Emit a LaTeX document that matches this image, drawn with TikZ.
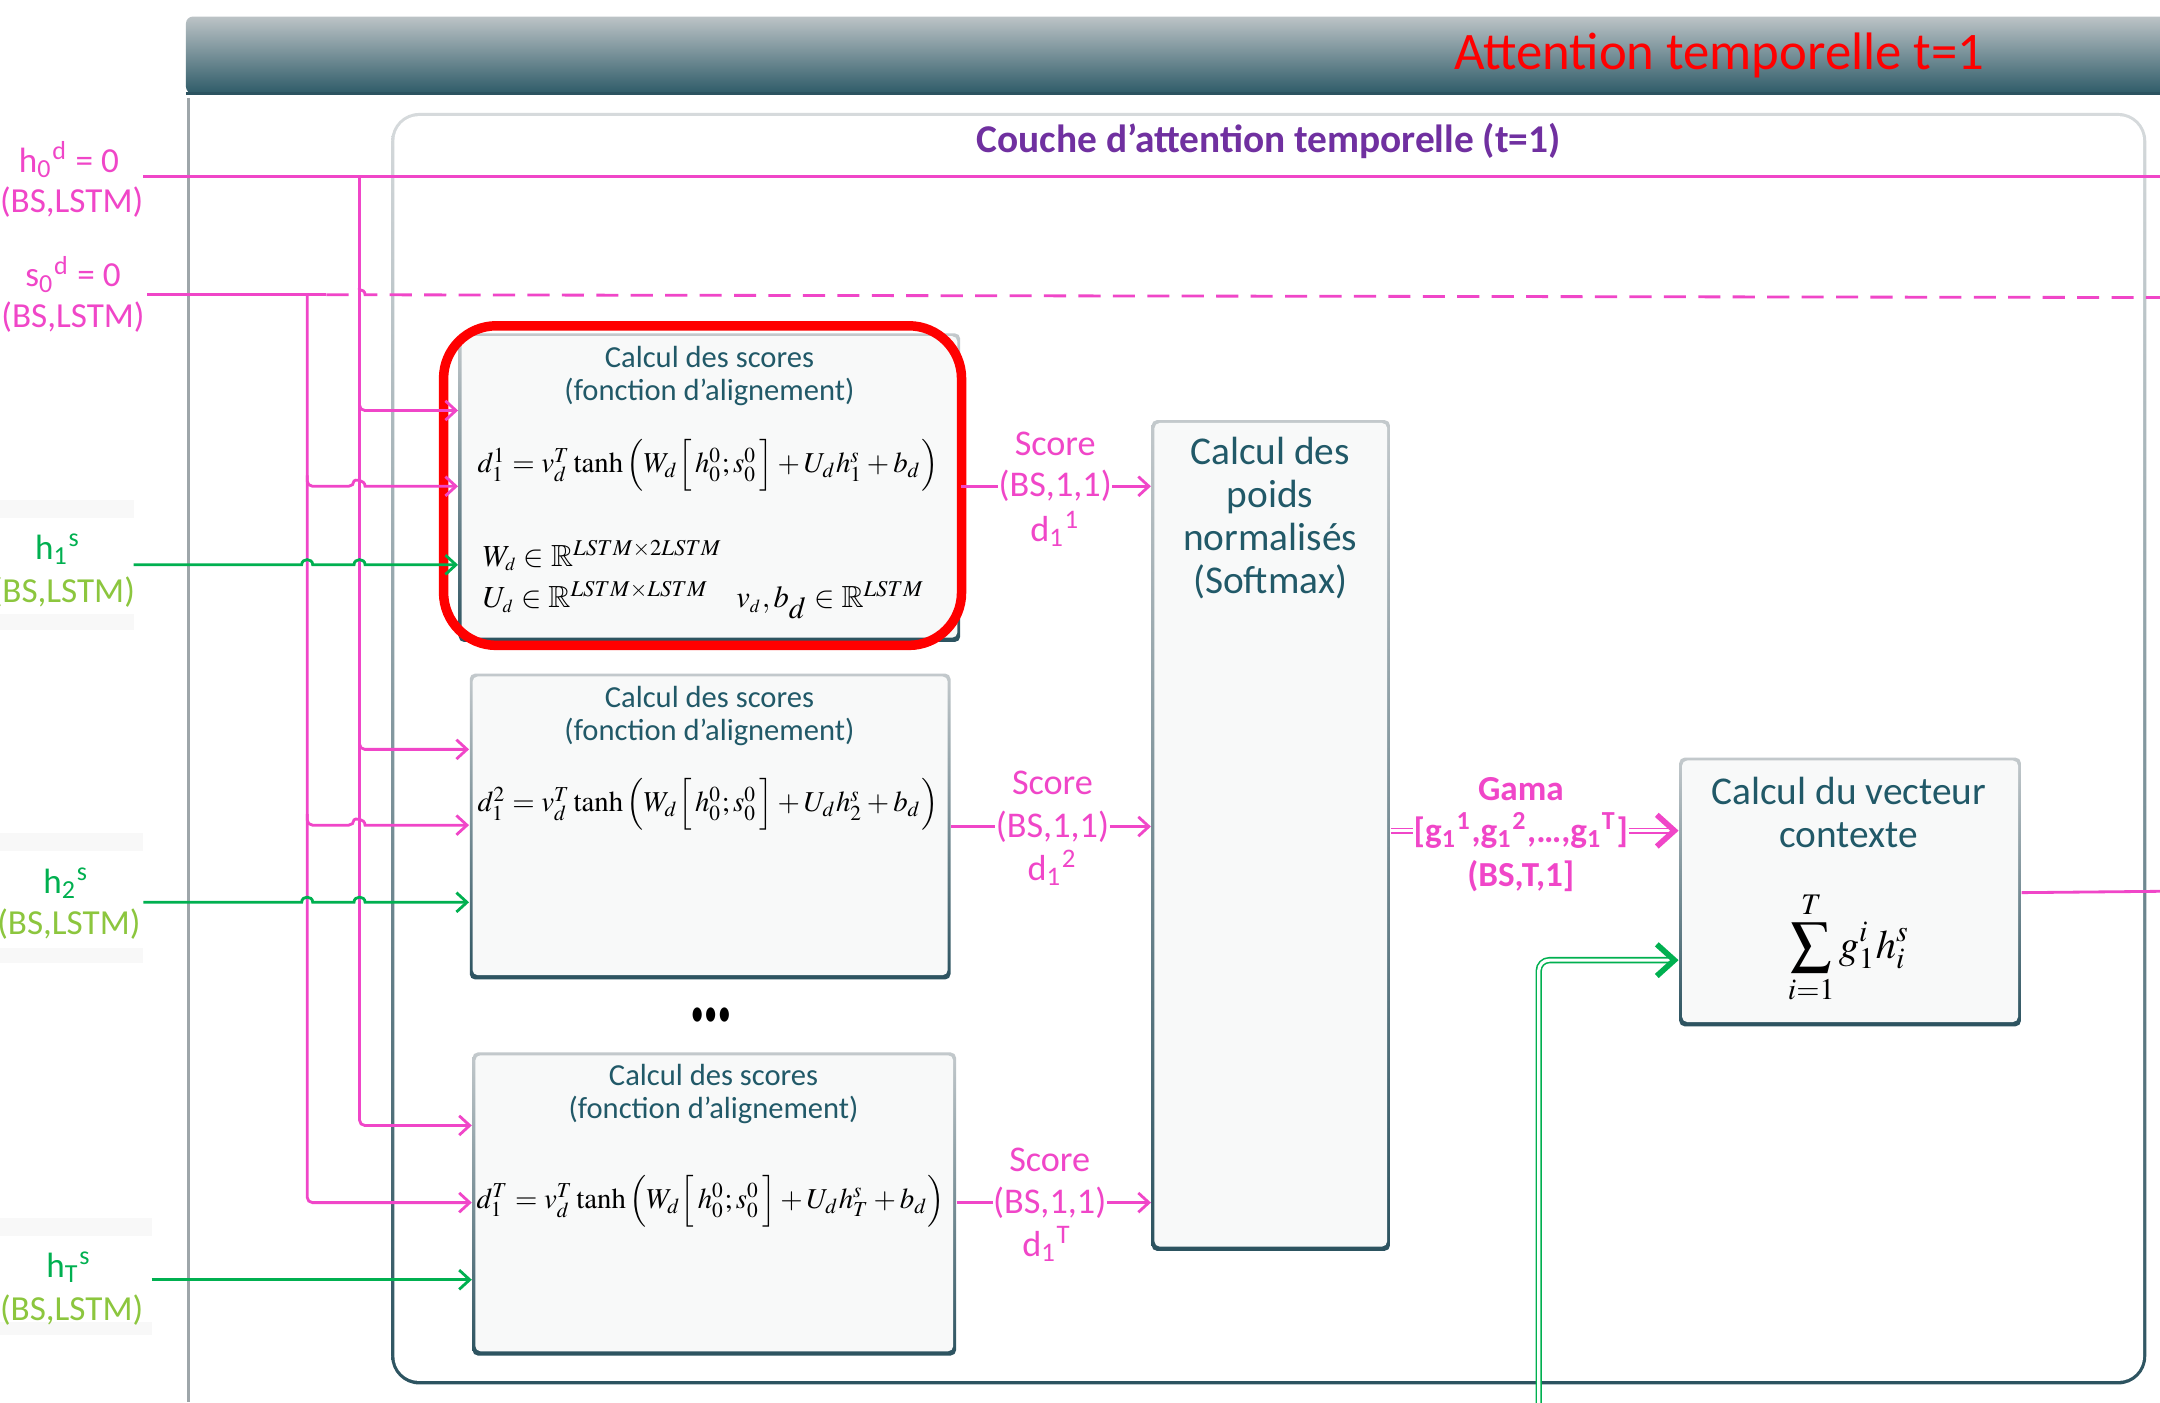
\documentclass[tikz,border=0pt]{standalone}
\usepackage{amssymb}
\usepackage{mathptmx}
\usepackage[no-math]{fontspec}
\setmainfont{Carlito}
\usetikzlibrary{arrows.meta,calc}
\newlength{\px}\setlength{\px}{0.013776cm}
\definecolor{pinkc}{HTML}{F046C8}
\definecolor{greenc}{HTML}{00B050}
\definecolor{lgreen}{HTML}{8CC63E}
\definecolor{tealt}{HTML}{215968}
\definecolor{purplec}{HTML}{7030A0}
\definecolor{bordtop}{HTML}{C3C9CC}
\definecolor{bordbot}{HTML}{2C5360}
\definecolor{framet}{HTML}{D6DADC}
\definecolor{boxfill}{HTML}{F8F9F9}
\definecolor{hdtop}{HTML}{BCC3C6}
\definecolor{hdbot}{HTML}{2E5B68}
\definecolor{labbg}{HTML}{F8F8F8}
\definecolor{framec}{HTML}{9EA6AA}
\tikzset{
  gbox/.style={rectangle, rounded corners=1.5pt, inner sep=0pt,
    top color=bordtop, bottom color=bordbot,
    path picture={\fill[boxfill] ([shift={(0.8pt,-0.8pt)}]path picture bounding box.north west)
       rectangle ([shift={(-0.8pt,1.2pt)}]path picture bounding box.south east);}},
  layerbox/.style={rectangle, rounded corners=8pt, inner sep=0pt,
    top color=framet, bottom color=bordbot,
    path picture={\fill[white, rounded corners=7pt] ([shift={(0.9pt,-0.9pt)}]path picture bounding box.north west)
       rectangle ([shift={(-0.9pt,1pt)}]path picture bounding box.south east);}},
  txt/.style={inner sep=0pt, align=center},
  boxtxt/.style={txt, text=tealt, font=\fontsize{8.7pt}{9.4pt}\selectfont},
  bigtxt/.style={txt, text=tealt, font=\fontsize{11.2pt}{12.3pt}\selectfont},
  fml/.style={inner sep=0pt, font=\fontsize{8.2pt}{10pt}\selectfont},
  parm/.style={inner sep=0pt, anchor=base west, font=\fontsize{8.7pt}{10pt}\selectfont},
  pinktxt/.style={txt, text=pinkc, font=\fontsize{10pt}{12pt}\selectfont},
  gtxt/.style={txt, text=greenc, font=\fontsize{10pt}{12pt}\selectfont},
  lgtxt/.style={txt, text=lgreen, font=\fontsize{10pt}{12pt}\selectfont},
  scoretxt/.style={txt, text=pinkc, font=\fontsize{10.3pt}{12pt}\selectfont},
  gamatxt/.style={txt, text=pinkc, font=\fontsize{10pt}{12pt}\bfseries\selectfont},
  pinkline/.style={draw=pinkc, line width=0.8pt},
  pinkarr/.style={pinkline, -{Straight Barb[length=3pt,width=5.5pt]}},
  greenline/.style={draw=greenc, line width=0.8pt},
  greenarr/.style={greenline, -{Straight Barb[length=3pt,width=5.5pt]}},
  dbl/.style={double=white, double distance=0.9pt, line width=0.45pt},
}
\begin{document}
\begin{tikzpicture}[x=0.013776cm, y=-0.013776cm]
\useasboundingbox (0,0) rectangle (1568,1018);
\fill[white] (0,0) rectangle (1568,1018);

% header
\shade[top color=hdtop, bottom color=hdbot, rounded corners=2pt] (135,12) rectangle (1590,68);
\draw[draw=bordbot, line width=0.8pt] (135,68) -- (1568,68);
\node[txt, text=red, font=\fontsize{15pt}{18pt}\selectfont] (title) at (1248,40) {Attention temporelle t=1};

% outer frame left line
\draw[framec, line width=0.8pt] (137,71) -- (137,1018);

% layer frame
\node[layerbox, minimum width=1274\px, minimum height=923\px] (layer) at (921,543.5) {};
\node[txt, text=purplec, font=\fontsize{11.2pt}{13pt}\bfseries\selectfont] (layertitle) at (921,102) {Couche d’attention temporelle (t=1)};

% faint label backgrounds
\fill[labbg] (0,363) rectangle (97,376);
\fill[labbg] (0,446) rectangle (97,457);
\fill[labbg] (0,605) rectangle (104,618);
\fill[labbg] (0,688) rectangle (104,699);
\fill[labbg] (0,884) rectangle (110,897);
\fill[labbg] (0,960) rectangle (110,969);

% boxes
\node[gbox, minimum width=364\px, minimum height=224\px] (box1) at (515,354) {};
\node[gbox, minimum width=349\px, minimum height=222\px] (box2) at (515.5,600) {};
\node[gbox, minimum width=351\px, minimum height=220\px] (box3) at (518.5,874) {};
\node[gbox, minimum width=173\px, minimum height=603\px] (soft) at (922.5,606.5) {};
\node[gbox, minimum width=248\px, minimum height=195\px] (ctx) at (1343,647.5) {};

% red highlight
\draw[red, line width=2.7pt, rounded corners=15pt] (322,236.5) rectangle (698,468.5);

% box texts
\node[boxtxt] (t1) at (515,273) {Calcul des scores\\(fonction d’alignement)};
\node[fml] (f1) at (514,338) {$d_1^1 = v_d^T \tanh\Big(W_d\Big[\,h_0^0;s_0^0\,\Big]+U_d h_1^s+b_d\Big)$};
\node[parm] (p1) at (350,411) {$W_{\scriptscriptstyle d}\in\mathbb{R}^{LSTM\times 2LSTM}$};
\node[parm] (p2) at (350,441) {$U_{\scriptscriptstyle d}\in\mathbb{R}^{LSTM\times LSTM}$};
\node[parm] (p3) at (534,441) {$v_{\scriptscriptstyle d},b_{\textstyle d}\in\mathbb{R}^{LSTM}$};

\node[boxtxt] (t2) at (515,520) {Calcul des scores\\(fonction d’alignement)};
\node[fml] (f2) at (514,584) {$d_1^2 = v_d^T \tanh\Big(W_d\Big[\,h_0^0;s_0^0\,\Big]+U_d h_2^s+b_d\Big)$};

\node[txt] (dots) at (516,737) {\scalebox{1.45}[2.3]{\fontsize{12pt}{12pt}\bfseries\selectfont …}};

\node[boxtxt] (t3) at (518,794) {Calcul des scores\\(fonction d’alignement)};
\node[fml] (f3) at (516,872) {$d_1^T = v_d^T \tanh\Big(W_d\Big[\,h_0^0;s_0^0\,\Big]+U_d h_T^s+b_d\Big)$};

\node[bigtxt] (tsoft) at (922,376) {Calcul des\\poids\\normalisés\\(Softmax)};
\node[bigtxt] (tctx) at (1342,590) {Calcul du vecteur\\contexte};
\node[fml, font=\fontsize{11.5pt}{13pt}\selectfont] (fctx) at (1342,688) {$\displaystyle\sum_{i=1}^{T} g_1^i h_i^s$};

% left labels
\node[pinktxt] (h0a) at (50,116) {h\textsubscript{0}\textsuperscript{d} = 0};
\node[pinktxt] (h0b) at (52,147) {(BS,LSTM)};
\node[pinktxt] (s0a) at (53,199) {s\textsubscript{0}\textsuperscript{d} = 0};
\node[pinktxt] (s0b) at (53,230) {(BS,LSTM)};
\node[gtxt] (h1a) at (42,399) {h\textsubscript{1}\textsuperscript{s}};
\node[lgtxt] (h1b) at (46,430) {(BS,LSTM)};
\node[gtxt] (h2a) at (48,641) {h\textsubscript{2}\textsuperscript{s}};
\node[lgtxt] (h2b) at (50,671) {(BS,LSTM)};
\node[gtxt] (hTa) at (50,920) {h\textsubscript{T}\textsuperscript{s}};
\node[lgtxt] (hTb) at (52,951) {(BS,LSTM)};

% score labels
\node[scoretxt] (sc1a) at (766,322) {Score};
\node[scoretxt] (sc1b) at (766,353) {(BS,1,1)};
\node[scoretxt] (sc1c) at (766,384) {d\textsubscript{1}\textsuperscript{1}};
\node[scoretxt] (sc2a) at (764,568) {Score};
\node[scoretxt] (sc2b) at (764,600) {(BS,1,1)};
\node[scoretxt] (sc2c) at (764,630) {d\textsubscript{1}\textsuperscript{2}};
\node[scoretxt] (sc3a) at (762,842) {Score};
\node[scoretxt] (sc3b) at (762,873) {(BS,1,1)};
\node[scoretxt] (sc3c) at (760,903) {d\textsubscript{1}\textsuperscript{T}};

% gama labels
\node[gamatxt] (gamA) at (1104,573) {Gama};
\node[gamatxt] (gamB) at (1104,603) {[g\textsubscript{1}\textsuperscript{1},g\textsubscript{1}\textsuperscript{2},…,g\textsubscript{1}\textsuperscript{T}]};
\node[gamatxt] (gamC) at (1104,636) {(BS,T,1]};

% coordinates
\coordinate (h0s) at (104,128);
\coordinate (h0e) at (1568,128);
\coordinate (s0s) at (107,214);
\coordinate (s0e) at (1568,216);
\coordinate (hbus) at (261,128);
\coordinate (sbus) at (223,214);
\coordinate (h1s) at (97,410);
\coordinate (h2s) at (104,655);
\coordinate (hTs) at (110,929);
\coordinate (gbot) at (1117,1025);
\coordinate (outR) at (1570,647);

% h0 and s0 lines
\draw[pinkline] (h0s) -- (h0e);
\draw[pinkline] (s0s) -- (237,214);
\draw[pinkline, dash pattern=on 6.3pt off 3.5pt] (237,214) -- (257,214) .. controls +(0,-5) and +(0,-5) .. (265,214) -- (s0e);

% h0 bus
\draw[pinkarr, rounded corners=1.5pt] (hbus) |- (box3.west |- 0,817);
\draw[pinkarr, rounded corners=1.5pt] (hbus |- 0,290) |- (box1.west |- 0,298);
\draw[pinkarr, rounded corners=1.5pt] (hbus |- 0,536) |- (box2.west |- 0,544);

% s0 bus
\draw[pinkarr, rounded corners=1.5pt] (sbus) |- (box3.west |- 0,873);
\draw[pinkarr] (sbus |- 0,345) [rounded corners=1.5pt] |- (257,353) [sharp corners] .. controls +(0,-5) and +(0,-5) .. (265,353) -- (box1.west |- 0,353);
\draw[pinkarr] (sbus |- 0,591) [rounded corners=1.5pt] |- (257,599) [sharp corners] .. controls +(0,-5) and +(0,-5) .. (265,599) -- (box2.west |- 0,599);

% green inputs
\draw[greenarr] (h1s) -- (219,410) .. controls +(0,-5) and +(0,-5) .. (227,410) -- (257,410) .. controls +(0,-5) and +(0,-5) .. (265,410) -- (box1.west |- 0,410);
\draw[greenarr] (h2s) -- (219,655) .. controls +(0,-5) and +(0,-5) .. (227,655) -- (257,655) .. controls +(0,-5) and +(0,-5) .. (265,655) -- (box2.west |- 0,655);
\draw[greenarr] (hTs) -- (box3.west |- hTs);

% scores
\draw[pinkline] (box1.east |- sc1b) -- (sc1b.west);
\draw[pinkarr] (sc1b.east) -- (soft.west |- sc1b);
\draw[pinkline] (box2.east |- sc2b) -- (sc2b.west);
\draw[pinkarr] (sc2b.east) -- (soft.west |- sc2b);
\draw[pinkline] (box3.east |- sc3b) -- (sc3b.west);
\draw[pinkarr] (sc3b.east) -- (soft.west |- sc3b);

% gama
\draw[draw=pinkc, dbl] (soft.east |- gamB) -- (gamB.west);
\draw[draw=pinkc, dbl, -{Straight Barb[length=5pt,width=9pt,line width=1.6pt]}] (gamB.east) -- (ctx.west |- gamB);

% green context input
\draw[draw=greenc, dbl, rounded corners=3pt, -{Straight Barb[length=5pt,width=9pt,line width=1.6pt]}] (gbot) |- (ctx.west |- 0,697);

% output
\draw[pinkline] (ctx.east |- 0,648) -- (outR);
\end{tikzpicture}
\end{document}
